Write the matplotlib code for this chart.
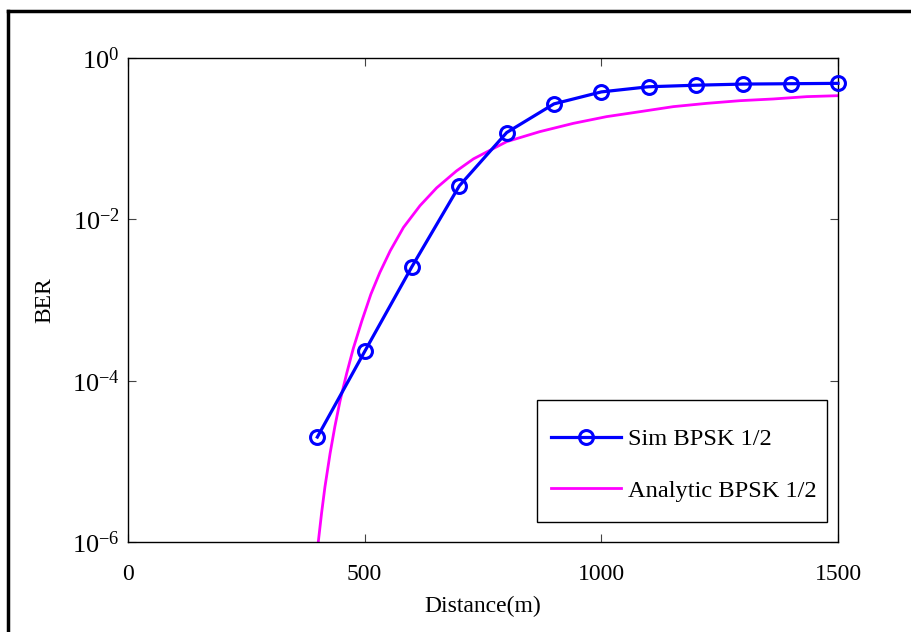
import math
import matplotlib
matplotlib.use("Agg")
import matplotlib.pyplot as plt
from matplotlib.lines import Line2D
from matplotlib.patches import Rectangle
from matplotlib.ticker import FixedLocator, FuncFormatter, NullLocator

plt.rcParams['font.family'] = ['Liberation Serif', 'DejaVu Serif']
plt.rcParams['mathtext.fontset'] = 'custom'
plt.rcParams['mathtext.rm'] = 'Liberation Serif'
plt.rcParams['mathtext.it'] = 'Liberation Serif'

# Simulated BER (markers)
sim_distance = [400, 500, 600, 700, 800, 900, 1000, 1100, 1200, 1300, 1400, 1500]
sim_ber = [2.0e-5, 2.3e-4, 2.6e-3, 2.6e-2, 0.119, 0.27, 0.38, 0.44, 0.46, 0.475, 0.48, 0.485]

# Analytic BER (as log10 values)
ana_distance = [402, 409, 416, 427, 437, 448, 462, 476, 494, 513, 532, 554, 582, 617,
                652, 694, 730, 800, 870, 941, 1011, 1082, 1152, 1223, 1293, 1363, 1434, 1500]
ana_log_ber = [-6.0, -5.64, -5.32, -4.90, -4.57, -4.25, -3.91, -3.60, -3.26, -2.93,
               -2.66, -2.39, -2.10, -1.83, -1.61, -1.40, -1.25, -1.037, -0.913,
               -0.81, -0.727, -0.665, -0.603, -0.562, -0.529, -0.508, -0.479, -0.467]
ana_ber = [10 ** v for v in ana_log_ber]

x_ticks = [0, 500, 1000, 1500]
y_ticks = [1e-6, 1e-4, 1e-2, 1e0]

fig = plt.figure(figsize=(9.12, 6.32), dpi=100)
ax = fig.add_axes([128 / 912, 1 - 542 / 632, 710 / 912, 484 / 632])

ax.plot(sim_distance, sim_ber, color='#0000ff', lw=2.3, marker='o', ms=10,
        mfc='none', mec='#0000ff', mew=2.2, label='Sim BPSK 1/2', clip_on=False, zorder=3)
ax.plot(ana_distance, ana_ber, color='#ff00ff', lw=2.0, label='Analytic BPSK 1/2', zorder=2)

ax.set_yscale('log')
ax.set_xlim(0, 1500)
ax.set_ylim(1e-6, 1e0)
ax.xaxis.set_major_locator(FixedLocator(x_ticks))
ax.yaxis.set_major_locator(FixedLocator(y_ticks))
ax.yaxis.set_minor_locator(NullLocator())
ax.xaxis.set_minor_locator(NullLocator())


def yfmt(v, pos):
    e = int(round(math.log10(v)))
    return r'$\mathregular{10^{%d}}$' % e


ax.yaxis.set_major_formatter(FuncFormatter(yfmt))
ax.tick_params(which='major', direction='in', length=6, width=0.8, color='#444444',
               top=True, right=True, labelsize=17)
ax.tick_params(axis='x', pad=16)
ax.tick_params(axis='y', pad=6, labelsize=19)
for s in ax.spines.values():
    s.set_linewidth(1.0)
    s.set_color('black')

ax.set_xlabel('Distance(m)', fontsize=17, labelpad=8)
ax.set_ylabel('BER', fontsize=17, labelpad=12)

# legend box
box = Rectangle((409 / 710, 20 / 484), 290 / 710, 122 / 484, transform=ax.transAxes,
                facecolor='white', edgecolor='black', lw=1.0, zorder=4.5)
ax.add_patch(box)
leg = ax.legend(loc='upper left', bbox_to_anchor=(423 / 710, 114 / 484), fontsize=17.6,
                frameon=False, handlelength=2.85, labelspacing=1.2, borderpad=0,
                handletextpad=0.3, borderaxespad=0)
leg.set_zorder(5)

# page border lines (top and left)
fig.add_artist(Line2D([8 / 912, 1.0], [1 - 11 / 632, 1 - 11 / 632], color='black', lw=2.5,
                      transform=fig.transFigure))
fig.add_artist(Line2D([8 / 912, 8 / 912], [0, 1 - 11 / 632], color='black', lw=2.5,
                      transform=fig.transFigure))

fig.savefig('out.png', dpi=100)
